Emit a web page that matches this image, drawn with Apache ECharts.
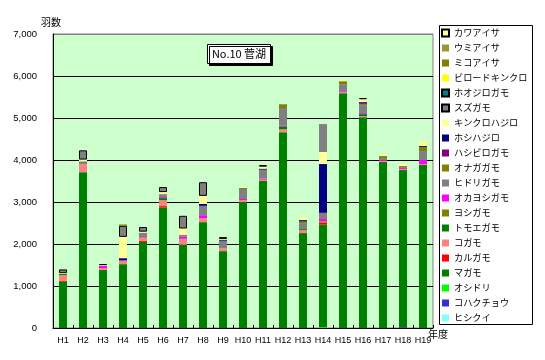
<!DOCTYPE html>
<html><head><meta charset="utf-8">
<script src="https://cdn.jsdelivr.net/npm/echarts@6/dist/echarts.min.js"></script>
<style>html,body{margin:0;padding:0;background:#fff}#c{width:545px;height:360px}</style>
</head><body><div id="c"></div>
<script>
const years = ['H1','H2','H3','H4','H5','H6','H7','H8','H9','H10','H11','H12','H13','H14','H15','H16','H17','H18','H19'];
const yTicks = [0,1000,2000,3000,4000,5000,6000,7000];

const hishikui      = [0,0,0,0,0,0,0,0,0,0,0,0,0,0,0,0,0,0,0];
const kohakucho     = [0,0,0,0,0,0,0,0,0,0,0,0,0,0,0,0,0,20,0];
const oshidori      = [0,0,0,0,0,0,0,0,0,0,0,0,0,20,0,0,0,0,0];
const magamo        = [1100,3710,1380,1520,2050,2870,1980,2520,1830,3000,3500,4660,2260,2440,5590,5020,3950,3740,3880];
const karugamo      = [25,0,0,0,24,32,0,0,0,0,0,0,0,48,0,0,0,0,0];
const kogamo        = [135,190,48,88,70,143,143,95,71,48,32,71,71,0,24,24,24,24,24];
const tomoegamo     = [25,0,0,0,0,48,0,0,0,0,0,71,24,0,0,48,0,0,0];
const yoshigamo     = [0,0,0,0,0,0,0,0,0,0,0,0,0,32,0,0,0,0,0];
const okayoshigamo  = [0,0,48,0,15,24,48,71,0,24,24,24,0,55,24,24,24,24,95];
const hidorigamo    = [0,70,0,0,110,71,48,222,167,238,214,412,143,143,167,190,48,24,214];
const onagagamo     = [0,0,0,0,0,0,0,0,0,24,0,88,40,0,71,24,48,24,95];
const hashibirogamo = [0,0,0,0,0,0,0,0,0,0,0,0,0,24,0,24,0,0,0];
const hoshihajiro   = [0,0,0,55,0,0,0,48,24,0,24,0,32,1142,0,24,0,0,24];
const kinkurohajiro = [20,40,24,507,24,48,150,190,24,20,48,0,71,286,24,71,48,48,119];
const suzugamo      = [90,220,20,262,110,119,302,325,48,0,36,0,0,666,0,24,0,0,0];
const hoojirogamo   = [0,0,0,0,0,0,0,0,0,0,0,0,0,0,0,0,0,0,0];
const birodokinkuro = [0,0,0,0,0,0,0,0,0,0,0,0,0,0,0,0,0,0,0];
const mikoaisa      = [0,0,0,32,0,0,0,0,0,0,0,0,0,0,0,0,0,0,0];
const umiaisa       = [0,0,0,0,0,0,0,0,0,0,0,0,0,0,0,0,0,0,0];
const kawaaisa      = [0,0,0,0,0,0,0,0,0,0,0,0,0,0,0,0,0,0,0];

// stack order bottom -> top
const seriesDefs = [
  ['ヒシクイ', hishikui, '#80FFFF', false],
  ['コハクチョウ', kohakucho, '#3333CC', false],
  ['オシドリ', oshidori, '#00FF00', false],
  ['マガモ', magamo, '#008000', false],
  ['カルガモ', karugamo, '#FF0000', false],
  ['コガモ', kogamo, '#FF8080', false],
  ['トモエガモ', tomoegamo, '#008000', false],
  ['ヨシガモ', yoshigamo, '#808000', false],
  ['オカヨシガモ', okayoshigamo, '#FF00FF', false],
  ['ヒドリガモ', hidorigamo, '#808080', false],
  ['オナガガモ', onagagamo, '#808000', false],
  ['ハシビロガモ', hashibirogamo, '#800080', false],
  ['ホシハジロ', hoshihajiro, '#000080', false],
  ['キンクロハジロ', kinkurohajiro, '#FFFF99', false],
  ['スズガモ', suzugamo, '#808080', true],
  ['ホオジロガモ', hoojirogamo, '#008080', true],
  ['ビロードキンクロ', birodokinkuro, '#FFFF00', false],
  ['ミコアイサ', mikoaisa, '#808000', false],
  ['ウミアイサ', umiaisa, '#999933', false],
  ['カワアイサ', kawaaisa, '#FFFF99', true]
];
const plainYears = ['H14']; // years where the bordered series is drawn without outline

const JP = '"Noto Sans CJK JP", sans-serif';
const NUM = '"Liberation Sans", Arial, sans-serif';

const series = seriesDefs.map(([name, vals, color, border]) => ({
  name, type: 'bar', stack: 'all', barWidth: 8,
  itemStyle: { color, borderColor: '#000', borderWidth: border ? 1 : 0 },
  emphasis: { disabled: true },
  data: vals.map((v, i) => {
    if (!v) return '-';
    if (border && plainYears.includes(years[i])) return { value: v, itemStyle: { borderWidth: 0 } };
    return v;
  })
}));

const chart = echarts.init(document.getElementById('c'), null, { renderer: 'canvas' });
chart.setOption({
  animation: false,
  backgroundColor: '#fff',
  grid: { left: 53, top: 34, right: 112, bottom: 32, show: true, backgroundColor: '#CCFFCC', borderColor: '#808080', borderWidth: 1 },
  legend: {
    orient: 'vertical', left: 441, top: 27, padding: 0,
    itemWidth: 7, itemHeight: 7, itemGap: 3, icon: 'rect',
    textStyle: { fontFamily: JP, fontSize: 9.2, color: '#000', lineHeight: 12 },
    data: seriesDefs.map(d => d[0]).reverse(),
    selectedMode: false
  },
  xAxis: {
    type: 'category', data: years, boundaryGap: true,
    axisLine: { lineStyle: { color: '#000', width: 1 } },
    axisTick: { show: true, inside: true, length: 3, lineStyle: { color: '#000' } },
    axisLabel: { fontFamily: NUM, fontSize: 9, color: '#000', margin: 8, interval: 0 }
  },
  yAxis: {
    type: 'value', min: yTicks[0], max: yTicks[yTicks.length - 1], interval: 1000,
    axisLine: { show: true, lineStyle: { color: '#000', width: 1 } },
    axisTick: { show: false },
    axisLabel: { fontFamily: NUM, fontSize: 9.5, color: '#000', margin: 16,
      formatter: v => v.toLocaleString('en-US') },
    splitLine: { show: true, lineStyle: { color: ['#000','#000','#000','#000','#000','#000','#000','#808080'], width: 1 } }
  },
  graphic: [
    { type: 'rect', shape: { x: 439.5, y: 25.5, width: 93, height: 299 }, style: { fill: 'none', stroke: '#000', lineWidth: 1 }, z: 10 },
    { type: 'rect', shape: { x: 207.5, y: 44.5, width: 63, height: 19 },
      style: { fill: '#fff', stroke: '#000', lineWidth: 1, shadowColor: '#000', shadowOffsetX: 2, shadowOffsetY: 2, shadowBlur: 0 }, z: 10 },
    { type: 'text', x: 239, y: 54, z: 11, style: { text: 'No.10 菅湖', fontFamily: JP, fontSize: 11, fill: '#000', align: 'center', verticalAlign: 'middle' } },
    { type: 'text', x: 41, y: 17, z: 11, style: { text: '羽数', fontFamily: JP, fontSize: 10, fill: '#000' } },
    { type: 'text', x: 428, y: 329, z: 11, style: { text: '年度', fontFamily: JP, fontSize: 10, fill: '#000' } }
  ],
  series
});
</script></body></html>
